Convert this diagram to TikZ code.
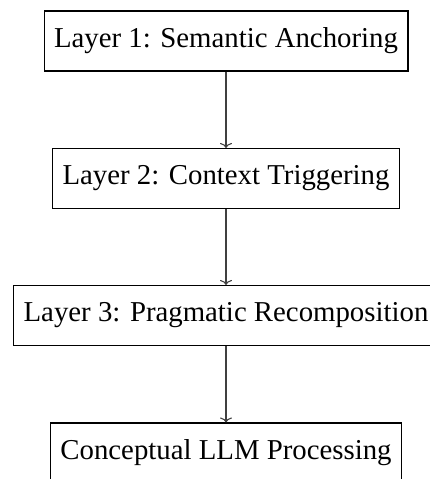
\documentclass[tikz,border=0pt]{standalone}
\usepackage{fontspec}
\setmainfont{Liberation Serif}
\usetikzlibrary{arrows.meta}
\begin{document}
\begin{tikzpicture}[x=1pt,y=-1pt,
  layerbox/.style={draw=black,line width=1.1pt,inner xsep=10pt,minimum height=60pt,
    font=\fontsize{28.8}{34}\selectfont,anchor=center},
  flow/.style={-{To[length=5pt,width=12pt]},line width=1.1pt,draw=black!75}]
\useasboundingbox (0,0) rectangle (430,479);
\node[layerbox] (l1) at (226,41) {Layer 1: Semantic Anchoring};
\node[layerbox] (l2) at (226,178.5) {Layer 2: Context Triggering};
\node[layerbox] (l3) at (226,315.5) {Layer 3: Pragmatic Recomposition};
\node[layerbox] (l4) at (226,453) {Conceptual LLM Processing};
\draw[flow] (l1) -- (l2);
\draw[flow] (l2) -- (l3);
\draw[flow] (l3) -- (l4);
\end{tikzpicture}
\end{document}
